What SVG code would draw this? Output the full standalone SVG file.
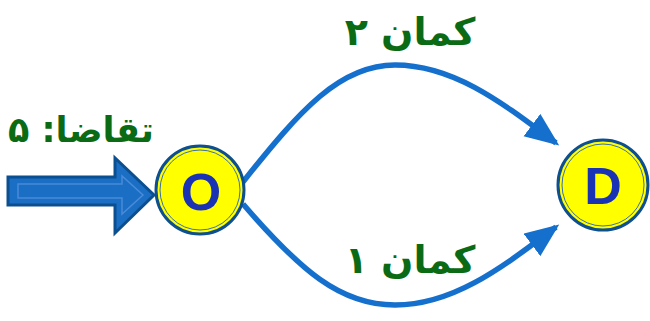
<svg xmlns="http://www.w3.org/2000/svg" width="650" height="321" viewBox="0 0 650 321">
<style>
.edge{fill:none;stroke:#1470cc;stroke-width:5.5}
.node circle.o{fill:#ffff00;stroke:#0d4f8f;stroke-width:3}
.node circle.i{fill:none;stroke:#3a6fb0;stroke-width:1}
.lbl{font-family:"DejaVu Sans",sans-serif;font-weight:bold;fill:#0b6b14;font-size:38px}
.nl{font-family:"Liberation Sans",Arial,sans-serif;font-weight:bold;fill:#1a32b4;font-size:52px;text-anchor:middle}
</style>
<defs>
<marker id="ah" markerUnits="userSpaceOnUse" markerWidth="40" markerHeight="40" refX="30" refY="14" orient="auto">
<path d="M0,0 L34,14 L0,28 Z" fill="#1470cc"/>
</marker>
</defs>
<rect width="650" height="321" fill="#ffffff"/>
<g id="connectors">
<path class="edge" d="M243,182 C300,110 340,65 395,65 C455,65 505,105 556,143" marker-end="url(#ah)"/>
<path class="edge" d="M243,204 C300,270 340,305 395,305 C455,305 505,265 556,227" marker-end="url(#ah)"/>
</g>
<g id="demand">
<path d="M8,177 L115,177 L115,158 L154,195 L115,233 L115,205 L8,205 Z" fill="#1a6fc4" stroke="#0b4f91" stroke-width="3"/>
<path d="M18,184 L122,184 L122,176 L143,195 L122,214 L122,198 L18,198 Z" fill="none" stroke="#4a8ad8" stroke-width="1.5"/>
<text class="lbl" x="81" y="142" text-anchor="middle" direction="rtl" style="font-size:35px">تقاضا: ۵</text>
</g>
<g id="O" class="node">
<circle class="o" cx="200" cy="190" r="44"/>
<circle class="i" cx="200" cy="190" r="40"/>
<text class="nl" x="201" y="210">O</text>
</g>
<g id="D" class="node">
<circle class="o" cx="603" cy="185" r="45"/>
<circle class="i" cx="603" cy="185" r="41"/>
<text class="nl" x="603" y="204">D</text>
</g>
<g id="labels">
<text class="lbl" x="410" y="45" text-anchor="middle" direction="rtl">کمان ۲</text>
<text class="lbl" x="410" y="273" text-anchor="middle" direction="rtl">کمان ۱</text>
</g>
</svg>
